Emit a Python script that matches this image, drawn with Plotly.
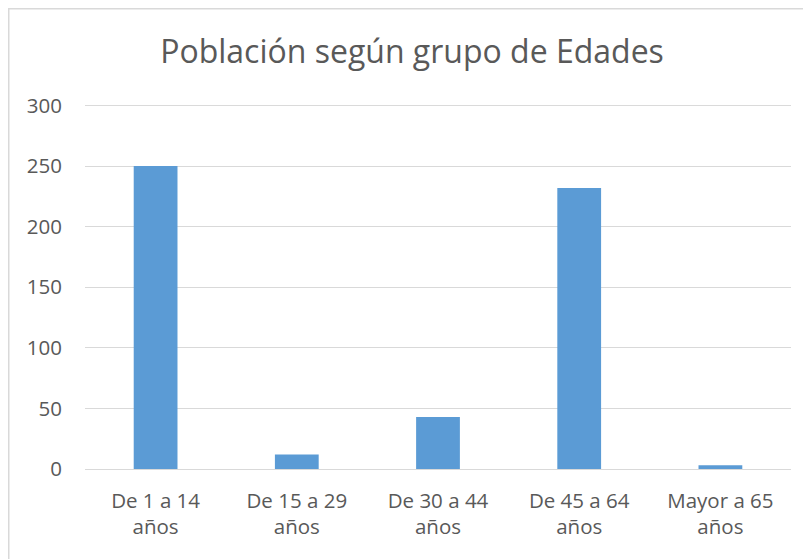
import plotly.graph_objects as go

categories = ["De 1 a 14<br>años", "De 15 a 29<br>años", "De 30 a 44<br>años", "De 45 a 64<br>años", "Mayor a 65<br>años"]
values = [250, 12, 43, 232, 3]
y_ticks = [0, 50, 100, 150, 200, 250, 300]
title_text = "Población según grupo de Edades"

# page shows an 8px body margin, so figure coords = reference coords - 8
OFF = 8
W, H = 811 - OFF, 559 - OFF
L, T = 85 - OFF, 105 - OFF
R = W - (791 - OFF)
B = H - (469 - OFF)
pw = W - L - R
ph = H - T - B

fig = go.Figure(go.Bar(
    x=categories, y=values,
    marker=dict(color="#5B9BD5", line=dict(width=0)),
    hoverinfo="skip",
))

fig.update_layout(
    width=W, height=H,
    margin=dict(l=L, r=R, t=T, b=B),
    paper_bgcolor="white", plot_bgcolor="white",
    bargap=0.69,
    showlegend=False,
    font=dict(family="Open Sans", color="#595959", size=20.5),
    title=dict(text=title_text, x=(412 - OFF) / W, xanchor="center", y=1 - (52 - OFF) / H, yanchor="middle",
               xref="container", yref="container",
               font=dict(family="Open Sans", size=32, color="#595959")),
    xaxis=dict(showgrid=False, showline=False, zeroline=False, ticks="",
               tickfont=dict(size=20.5, color="#595959"), ticklabelstandoff=17),
    yaxis=dict(range=[0, 300.4], tickvals=y_ticks, showgrid=True, gridcolor="#D9D9D9", gridwidth=1,
               zeroline=True, zerolinecolor="#D9D9D9", zerolinewidth=1, showline=False, ticks="",
               tickfont=dict(size=20.5, color="#595959"), ticklabelstandoff=22),
)

# top gridline (plotly drops the gridline at the plot edge)
fig.add_shape(type="line", xref="paper", yref="y", x0=0, x1=1, y0=y_ticks[-1], y1=y_ticks[-1],
              line=dict(color="#D9D9D9", width=1), layer="below")

# outer chart border
x0 = (0.75 - L) / pw
x1 = (W + 4 - L) / pw
y1 = 1 + (T - 0.75) / ph
y0 = -(B + 4) / ph
fig.add_shape(type="rect", xref="paper", yref="paper", x0=x0, x1=x1, y0=y0, y1=y1,
              line=dict(color="#D9D9D9", width=1.5), fillcolor="rgba(0,0,0,0)", layer="below")

fig.write_html("out.html")
